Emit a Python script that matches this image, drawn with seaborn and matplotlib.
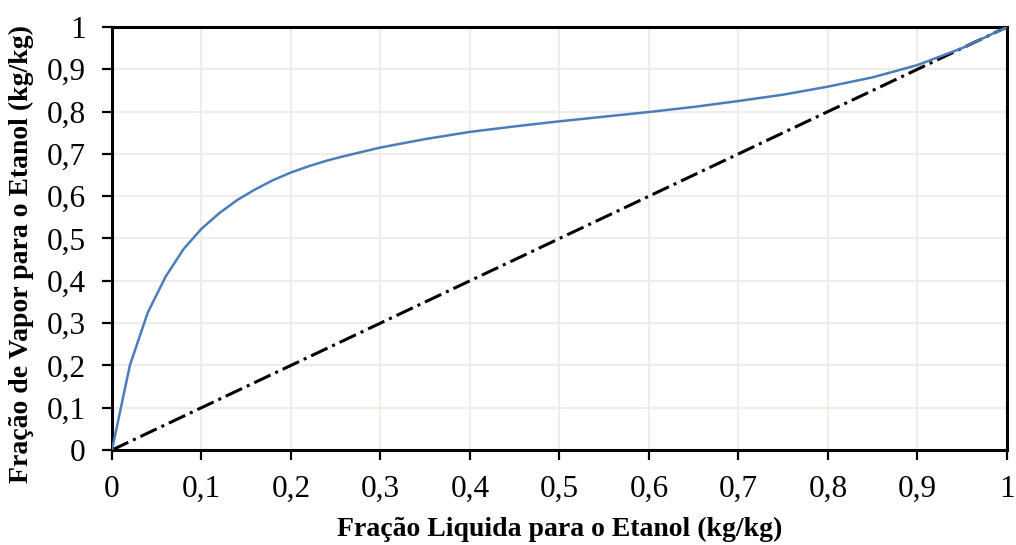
import matplotlib
matplotlib.use("Agg")
import matplotlib.pyplot as plt
import seaborn as sns
import pandas as pd

# Liquid fraction (x) and vapour fraction (y) of ethanol, kg/kg
x_liq = [0.0, 0.02, 0.04, 0.06, 0.08, 0.10, 0.12, 0.14, 0.16, 0.18, 0.20,
         0.22, 0.24, 0.26, 0.28, 0.30, 0.35, 0.40, 0.45, 0.50, 0.55, 0.60,
         0.65, 0.70, 0.75, 0.80, 0.85, 0.90, 0.95, 1.00]
y_vap = [0.0, 0.20, 0.325, 0.41, 0.475, 0.523, 0.560, 0.591, 0.616, 0.638, 0.656,
         0.671, 0.684, 0.695, 0.705, 0.715, 0.735, 0.752, 0.765, 0.777, 0.788, 0.799,
         0.811, 0.825, 0.840, 0.859, 0.881, 0.910, 0.950, 1.0]
diag = [0.0, 1.0]

x_ticks = [0, 0.1, 0.2, 0.3, 0.4, 0.5, 0.6, 0.7, 0.8, 0.9, 1.0]
y_ticks = [0, 0.1, 0.2, 0.3, 0.4, 0.5, 0.6, 0.7, 0.8, 0.9, 1.0]
x_tick_labels = ["0", "0,1", "0,2", "0,3", "0,4", "0,5", "0,6", "0,7", "0,8", "0,9", "1"]
y_tick_labels = ["0", "0,1", "0,2", "0,3", "0,4", "0,5", "0,6", "0,7", "0,8", "0,9", "1"]
x_label = "Fração Liquida para o Etanol (kg/kg)"
y_label = "Fração de Vapor para o Etanol (kg/kg)"

sns.set_theme(style="white")
plt.rcParams["font.family"] = ["Liberation Serif", "DejaVu Serif"]

fig = plt.figure(figsize=(10.16, 5.45), dpi=100)
ax = fig.add_axes([0.1102, 0.1743, 0.8809, 0.7762])

curve = pd.DataFrame({"x": x_liq, "y": y_vap})
line45 = pd.DataFrame({"x": diag, "y": diag})

sns.lineplot(data=line45, x="x", y="y", ax=ax, color="black", linewidth=2.2,
             dashes=False, zorder=3)
ax.lines[-1].set_dashes([5.9, 1.7, 1.0, 1.7])
sns.lineplot(data=curve, x="x", y="y", ax=ax, color="#4a7ebb", linewidth=1.8,
             zorder=4)

ax.set_xlim(0, 1)
ax.set_ylim(0, 1)
ax.set_xticks(x_ticks)
ax.set_xticklabels(x_tick_labels)
ax.set_yticks(y_ticks)
ax.set_yticklabels(y_tick_labels)
ax.grid(True, color="#efede7", linewidth=1.5)
ax.set_axisbelow(True)

for s in ax.spines.values():
    s.set_visible(True)
    s.set_color("black")
    s.set_linewidth(2.2)

ax.tick_params(axis="both", which="major", direction="out", length=7, width=1.6,
               color="black", labelsize=22.5, labelcolor="black",
               bottom=True, left=True)
ax.tick_params(axis="x", pad=11)
ax.tick_params(axis="y", pad=12)

ax.set_xlabel(x_label, fontsize=20, fontweight="bold", color="black")
ax.set_ylabel(y_label, fontsize=20, fontweight="bold", color="black")
ax.xaxis.set_label_coords(0.5, -0.158)
ax.yaxis.set_label_coords(-0.087, 0.463)

fig.savefig("out.png", dpi=100)
